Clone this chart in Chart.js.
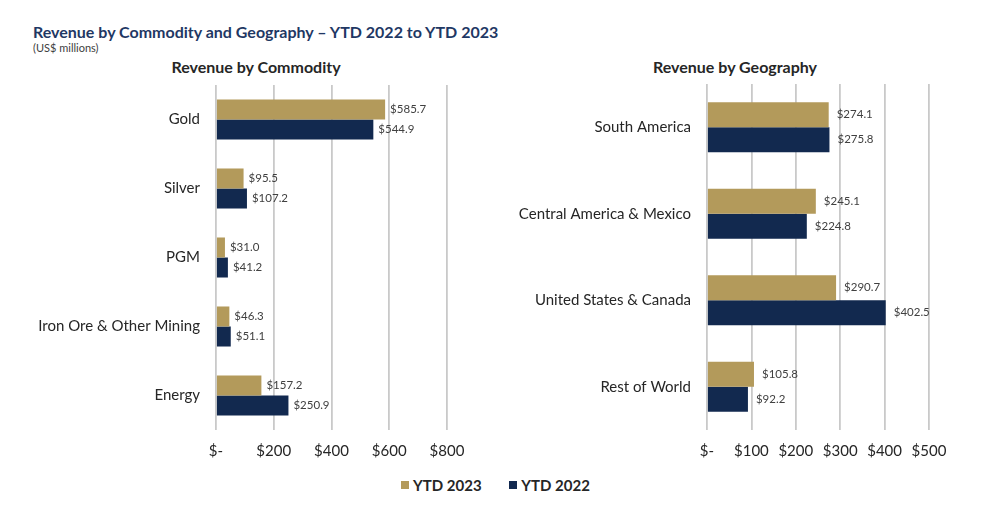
<!DOCTYPE html>
<html>
<head>
<meta charset="utf-8">
<script src="https://cdn.jsdelivr.net/npm/chart.js@4"></script>
<style>
  html,body{margin:0;padding:0;background:#fff;}
  body{width:991px;height:529px;position:relative;overflow:hidden;font-family:Lato,"Open Sans",sans-serif;}
  .t{position:absolute;white-space:nowrap;}
  #title{left:33px;top:22px;font-size:16px;font-weight:bold;color:#1F3864;}
  #sub{left:33px;top:41px;font-size:11px;color:#404040;}
  .hdr{top:57px;font-size:16px;font-weight:bold;color:#262626;transform:translateX(-50%);}
  canvas{position:absolute;top:0;}
  #legend{position:absolute;top:474px;left:0;width:991px;text-align:center;font-size:15px;font-weight:bold;color:#262626;}
  .li{display:inline-flex;align-items:center;margin:0 12px;}
  .sw{display:inline-block;width:8px;height:8px;margin-right:4px;}
</style>
</head>
<body>
<div id="title" class="t">Revenue by Commodity and Geography – YTD 2022 to YTD 2023</div>
<div id="sub" class="t">(US$ millions)</div>
<div class="t hdr" style="left:256px;">Revenue by Commodity</div>
<div class="t hdr" style="left:735px;">Revenue by Geography</div>
<canvas id="c1" width="480" height="470" style="left:0;"></canvas>
<canvas id="c2" width="511" height="470" style="left:480px;"></canvas>
<div id="legend">
  <span class="li"><span class="sw" style="background:#B39A5B"></span>YTD 2023</span>
  <span class="li"><span class="sw" style="background:#12294F"></span>YTD 2022</span>
</div>
<script>
// ---- data ----
const commodityCategories = ["Gold", "Silver", "PGM", "Iron Ore & Other Mining", "Energy"];
const commodity2023 = [585.7, 95.5, 31.0, 46.3, 157.2];
const commodity2022 = [544.9, 107.2, 41.2, 51.1, 250.9];

const geographyCategories = ["South America", "Central America & Mexico", "United States & Canada", "Rest of World"];
const geography2023 = [274.1, 245.1, 290.7, 105.8];
const geography2022 = [275.8, 224.8, 402.5, 92.2];

const seriesNames = ["YTD 2023", "YTD 2022"];
const commodityTicks = [0, 200, 400, 600, 800];
const geographyTicks = [0, 100, 200, 300, 400, 500];

// ---- styles ----
const GOLD = "#B39A5B", NAVY = "#12294F";
const FONT = "Lato, 'Open Sans', sans-serif";

function labelPlugin(offset){
  return {
    id: "valueLabels",
    afterDatasetsDraw(chart){
      const ctx = chart.ctx;
      ctx.save();
      ctx.font = "11.5px " + FONT;
      ctx.fillStyle = "#404040";
      ctx.textBaseline = "middle";
      ctx.textAlign = "left";
      chart.data.datasets.forEach((ds, i) => {
        const meta = chart.getDatasetMeta(i);
        meta.data.forEach((bar, j) => {
          ctx.fillText("$" + ds.data[j].toFixed(1), bar.x + offset, bar.y);
        });
      });
      ctx.restore();
    }
  };
}

function makeChart(id, cats, d23, d22, ticks, yWidth, rightPad, offset, topPad){
  const max = ticks[ticks.length-1];
  const step = ticks[1] - ticks[0];
  return new Chart(document.getElementById(id), {
    type: "bar",
    data: {
      labels: cats,
      datasets: [
        {label: seriesNames[0], data: d23, backgroundColor: GOLD},
        {label: seriesNames[1], data: d22, backgroundColor: NAVY}
      ]
    },
    options: {
      indexAxis: "y",
      responsive: false,
      animation: false,
      events: [],
      layout: {padding: {top: topPad, right: rightPad, left: 0, bottom: 0}},
      datasets: {bar: {categoryPercentage: 0.58, barPercentage: 1.0}},
      plugins: {legend: {display: false}, tooltip: {enabled: false}, title: {display: false}},
      scales: {
        x: {
          min: 0, max: max,
          ticks: {stepSize: step, color: "#262626", font: {family: FONT, size: 15}, padding: 12,
                  callback: v => v === 0 ? "$-" : "$" + v},
          grid: {color: "#C9C9C9", lineWidth: 1.8, drawTicks: false},
          border: {display: false},
          afterFit(s){ s.height = 40; }
        },
        y: {
          ticks: {color: "#262626", font: {family: FONT, size: 15}, padding: 16},
          grid: {display: false, drawTicks: false},
          border: {display: false},
          afterFit(s){ s.width = yWidth; }
        }
      }
    },
    plugins: [labelPlugin(offset)]
  });
}

makeChart("c1", commodityCategories, commodity2023, commodity2022, commodityTicks, 216, 33, 5, 85);
makeChart("c2", geographyCategories, geography2023, geography2022, geographyTicks, 227, 62, 8, 84);
</script>
</body>
</html>
